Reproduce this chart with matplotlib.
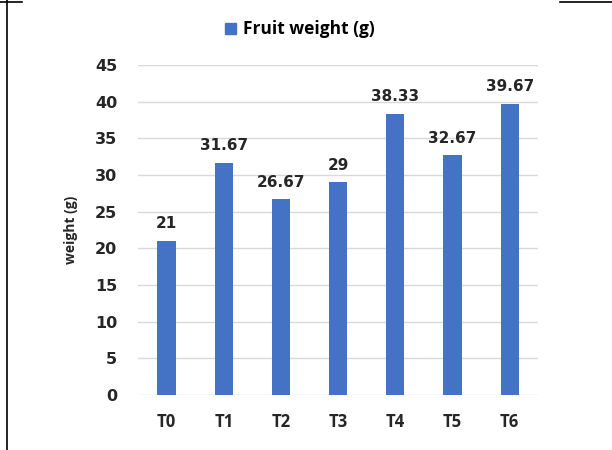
import matplotlib.pyplot as plt
from matplotlib.lines import Line2D
from matplotlib.patches import Patch

# treatments and mean fruit weight
treatments = ["T0", "T1", "T2", "T3", "T4", "T5", "T6"]
fruit_weight = [21, 31.67, 26.67, 29, 38.33, 32.67, 39.67]
value_labels = ["21", "31.67", "26.67", "29", "38.33", "32.67", "39.67"]

bar_color = "#4472C4"
text_color = "#262626"
plt.rcParams["font.family"] = ["Open Sans", "DejaVu Sans"]

fig = plt.figure(figsize=(6.12, 4.5), dpi=100)
ax = fig.add_axes([0.2255, 0.122, 0.654, 0.734])

x = range(len(treatments))
bars = ax.bar(x, fruit_weight, width=0.32, color=bar_color, zorder=3)

for b, txt in zip(bars, value_labels):
    ax.text(b.get_x() + b.get_width() / 2, b.get_height() + 1.3, txt,
            ha="center", va="bottom", fontsize=11, fontweight="bold",
            family="DejaVu Sans", color=text_color)

ax.set_ylim(0, 45)
ax.set_xlim(-0.5, len(treatments) - 0.5)
ax.set_yticks(range(0, 46, 5))
ax.set_yticklabels([str(v) for v in range(0, 46, 5)], fontsize=11.5,
                   fontweight="bold", family="DejaVu Sans", color=text_color)
ax.set_xticks(list(x))
ax.set_xticklabels(treatments, fontsize=12, fontweight="bold",
                   color=text_color)
ax.grid(axis="y", color="#d9d9d9", linewidth=1, zorder=0)
for s in ax.spines.values():
    s.set_visible(False)
ax.tick_params(length=0)
ax.tick_params(axis="y", pad=15)
ax.tick_params(axis="x", pad=13)

ax.set_ylabel("weight (g)", fontsize=10, fontweight="bold",
              color=text_color, labelpad=12)

fig.legend(handles=[Patch(color=bar_color)], labels=["Fruit weight (g)"],
           loc="center", bbox_to_anchor=(0.49, 0.935), frameon=False,
           handlelength=0.6, handleheight=0.6, handletextpad=0.4,
           prop={"size": 12.5, "weight": "bold"})

# frame fragments around the figure
fig.add_artist(Line2D([7 / 612, 7 / 612], [0, 1], color="black", lw=1.2))
fig.add_artist(Line2D([0, 22 / 612], [0.995, 0.995], color="black", lw=1.2))
fig.add_artist(Line2D([560 / 612, 1], [0.995, 0.995], color="black", lw=1.2))

fig.savefig("out.png", dpi=100)
